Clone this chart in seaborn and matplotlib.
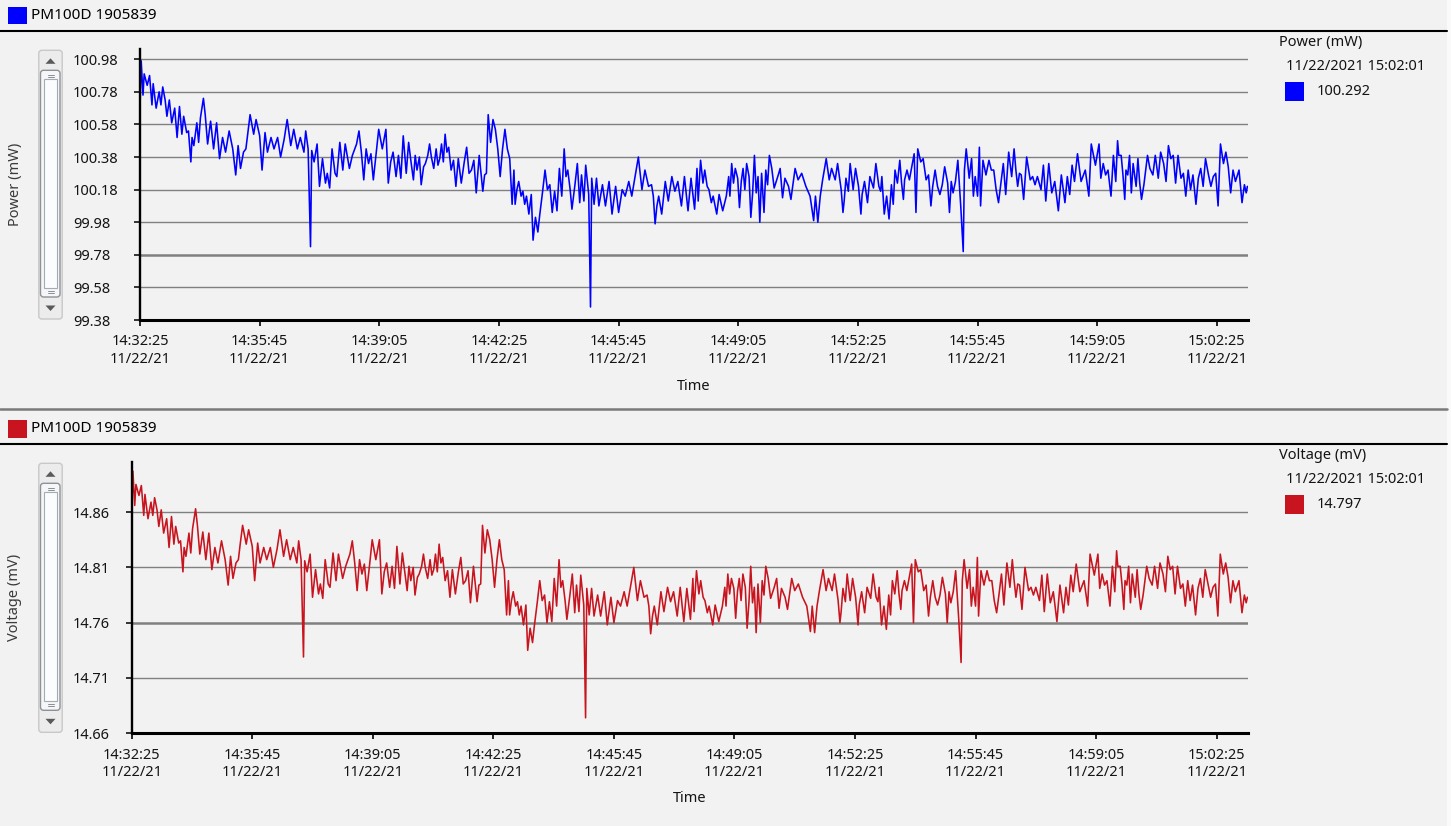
import numpy as np
import pandas as pd
import matplotlib
matplotlib.use("Agg")
import matplotlib.pyplot as plt
import matplotlib.dates as mdates
from matplotlib.patches import Rectangle, FancyBboxPatch, Polygon
from matplotlib.lines import Line2D
import seaborn as sns

# ---------------- data ----------------
device_name = "PM100D 1905839"
start_time = "2021-11-22 14:32:25"
legend_time = "11/22/2021 15:02:01"
power_current = "100.292"
voltage_current = "14.797"
power_label = "Power (mW)"
voltage_label = "Voltage (mV)"
x_label = "Time"

# seconds after 14:32:25 at which local highs / lows of the trace were read
elapsed_s = [
    0, 2, 5, 7, 12, 16, 20, 22, 27, 32, 35, 38, 42, 45, 49, 53, 58, 62, 66, 70,
    73, 78, 81, 85, 87, 90, 95, 98, 101, 106, 109, 113, 118, 123, 128, 133, 138, 143, 149, 155,
    160, 164, 168, 173, 177, 180, 184, 190, 194, 200, 204, 209, 213, 219, 224, 230, 235, 241, 246, 252,
    257, 263, 268, 274, 277, 281, 285, 287, 291, 296, 300, 305, 310,
    313, 317, 321, 326, 329, 334, 339, 343, 350, 355, 362, 366, 370, 374, 378, 382, 386, 390, 395, 399,
    405, 411, 415, 419, 423, 428, 432, 436, 440, 445, 449, 453, 457, 460, 463, 467, 470, 474, 477, 481,
    484, 487, 491, 495, 498, 501, 504, 507, 510, 513, 516, 520, 524, 528, 532, 537, 542, 546, 550, 554,
    558, 562, 567, 573, 576, 579, 582, 586, 590, 594, 598, 602, 606, 610, 614, 618, 622,
    625, 627, 630, 633, 637, 640, 643, 646, 650, 654, 657, 661, 665, 668, 673, 677, 681, 685, 689, 693,
    697, 701, 705, 709, 712, 715, 719, 722, 727, 731, 735, 738, 742, 745, 750, 753, 755, 759, 763, 767,
    773, 778, 784, 789, 795, 800, 806, 811, 817, 822, 828, 833, 839, 844, 850, 855, 858, 861, 864, 867,
    872, 878, 883, 889, 894, 899, 905, 910, 916, 921, 927, 931,
    933, 937, 941, 944, 948, 951, 955, 958, 964, 968, 974, 980, 984, 986, 989, 992, 995, 999, 1002, 1005,
    1008, 1011, 1014, 1018, 1021, 1024, 1027, 1030, 1033, 1036, 1039, 1043, 1046, 1049, 1052, 1056, 1060, 1066, 1070, 1074,
    1078, 1084, 1088, 1095, 1100, 1106, 1113, 1120, 1126, 1129, 1133, 1137, 1141, 1147, 1152, 1156, 1162, 1166, 1172, 1175,
    1177, 1180, 1184, 1187, 1192, 1196, 1201, 1205, 1207, 1211, 1216, 1220, 1226, 1230, 1235, 1238,
    1240, 1244, 1248, 1252, 1256, 1259, 1262, 1266, 1270, 1273, 1276, 1278, 1282, 1286, 1291, 1294, 1297, 1300, 1305, 1309,
    1314, 1318, 1322, 1325, 1329, 1333, 1337, 1341, 1345, 1350, 1353, 1356, 1359, 1363, 1367, 1372, 1376, 1378, 1381, 1386,
    1390, 1393, 1396, 1400, 1403, 1405, 1409, 1414, 1419, 1423, 1427, 1431, 1435, 1439, 1443, 1447, 1452, 1457, 1461, 1464,
    1467, 1470, 1473, 1477, 1482, 1488, 1492, 1496, 1500, 1506, 1510, 1514, 1519, 1524, 1529, 1535, 1540, 1546,
    1550, 1554, 1558, 1562, 1567, 1573, 1580, 1586, 1590, 1597, 1603, 1606, 1610, 1614, 1618, 1623, 1627, 1631, 1634, 1636,
    1640, 1643, 1646, 1648, 1651, 1654, 1657, 1660, 1665, 1668, 1671, 1674, 1678, 1681, 1684, 1688, 1693, 1697, 1702, 1706,
    1711, 1715, 1719, 1723, 1727, 1731, 1735, 1740, 1744, 1748, 1752, 1756, 1760, 1765, 1769, 1773, 1777, 1781, 1786, 1790,
    1794, 1798, 1802, 1806, 1811, 1815, 1819, 1823, 1827, 1831, 1837, 1842, 1846, 1849, 1851,
]

power_mw = [
    100.68, 100.97, 100.76, 100.89, 100.82, 100.88, 100.70, 100.83, 100.68, 100.78, 100.70, 100.81, 100.73, 100.63, 100.73, 100.59, 100.68, 100.50, 100.69, 100.52,
    100.63, 100.53, 100.54, 100.35, 100.50, 100.45, 100.59, 100.47, 100.62, 100.74, 100.64, 100.46, 100.60, 100.43, 100.59, 100.37, 100.50, 100.41, 100.54, 100.43,
    100.27, 100.45, 100.31, 100.41, 100.43, 100.52, 100.64, 100.52, 100.61, 100.51, 100.30, 100.53, 100.41, 100.50, 100.43, 100.50, 100.38, 100.49, 100.61, 100.45,
    100.55, 100.43, 100.50, 100.41, 100.54, 100.43, 99.83, 100.42, 100.35, 100.46, 100.20, 100.37, 100.22,
    100.28, 100.19, 100.43, 100.28, 100.26, 100.47, 100.30, 100.46, 100.31, 100.39, 100.46, 100.54, 100.41, 100.24, 100.43, 100.34, 100.40, 100.24, 100.41, 100.55,
    100.43, 100.55, 100.22, 100.35, 100.41, 100.26, 100.39, 100.25, 100.51, 100.28, 100.47, 100.35, 100.24, 100.39, 100.30, 100.38, 100.21, 100.32, 100.34, 100.39,
    100.46, 100.38, 100.31, 100.43, 100.33, 100.37, 100.46, 100.35, 100.52, 100.41, 100.44, 100.30, 100.36, 100.20, 100.37, 100.22, 100.35, 100.44, 100.28, 100.30,
    100.36, 100.16, 100.39, 100.17, 100.27, 100.28, 100.64, 100.47, 100.61, 100.55, 100.43, 100.26, 100.43, 100.55, 100.43, 100.37, 100.09,
    100.30, 100.09, 100.18, 100.23, 100.14, 100.17, 100.09, 100.14, 100.03, 100.15, 99.87, 100.01, 99.92, 100.02, 100.17, 100.30, 100.18, 100.21, 100.04, 100.17,
    100.05, 100.31, 100.14, 100.43, 100.26, 100.30, 100.18, 100.06, 100.21, 100.34, 100.10, 100.27, 100.11, 100.33, 100.15, 99.46, 100.25, 100.09, 100.25, 100.08,
    100.21, 100.08, 100.23, 100.03, 100.20, 100.04, 100.18, 100.14, 100.23, 100.14, 100.27, 100.38, 100.18, 100.30, 100.20, 100.21, 100.14, 99.97, 100.08, 100.14,
    100.03, 100.23, 100.11, 100.26, 100.17, 100.23, 100.08, 100.26, 100.05, 100.25, 100.06, 100.31,
    100.11, 100.36, 100.22, 100.30, 100.20, 100.18, 100.10, 100.14, 100.03, 100.15, 100.05, 100.14, 100.26, 100.14, 100.34, 100.22, 100.31, 100.25, 100.07, 100.23,
    100.31, 100.18, 100.34, 100.26, 100.01, 100.16, 100.39, 100.16, 100.26, 99.98, 100.28, 100.04, 100.30, 100.21, 100.39, 100.31, 100.19, 100.26, 100.31, 100.13,
    100.25, 100.20, 100.12, 100.31, 100.24, 100.28, 100.20, 100.14, 99.99, 100.14, 99.98, 100.14, 100.24, 100.37, 100.24, 100.31, 100.24, 100.34, 100.18, 100.04,
    100.11, 100.25, 100.17, 100.34, 100.18, 100.31, 100.20, 100.03, 100.15, 100.23, 100.10, 100.26, 100.19, 100.34, 100.20, 100.17,
    100.26, 100.03, 100.14, 100.00, 100.21, 100.09, 100.30, 100.22, 100.36, 100.22, 100.12, 100.24, 100.30, 100.24, 100.34, 100.40, 100.04, 100.43, 100.35, 100.37,
    100.24, 100.27, 100.08, 100.20, 100.30, 100.20, 100.15, 100.21, 100.32, 100.22, 100.04, 100.23, 100.16, 100.23, 100.36, 100.07, 99.80, 100.30, 100.43, 100.25,
    100.37, 100.14, 100.26, 100.14, 100.44, 100.08, 100.36, 100.27, 100.36, 100.30, 100.30, 100.18, 100.10, 100.22, 100.34, 100.15, 100.41, 100.26, 100.43, 100.30,
    100.20, 100.28, 100.27, 100.12, 100.38, 100.24, 100.26, 100.21, 100.26, 100.18, 100.33, 100.11, 100.34, 100.16, 100.23, 100.05, 100.27, 100.10,
    100.26, 100.15, 100.33, 100.23, 100.40, 100.23, 100.30, 100.14, 100.46, 100.33, 100.46, 100.25, 100.34, 100.27, 100.30, 100.14, 100.39, 100.23, 100.48, 100.39,
    100.39, 100.27, 100.12, 100.30, 100.27, 100.39, 100.16, 100.34, 100.20, 100.37, 100.22, 100.12, 100.21, 100.30, 100.39, 100.31, 100.27, 100.39, 100.25, 100.41,
    100.34, 100.23, 100.45, 100.37, 100.39, 100.22, 100.39, 100.25, 100.28, 100.14, 100.30, 100.18, 100.27, 100.09, 100.25, 100.31, 100.20, 100.37, 100.27, 100.20,
    100.26, 100.28, 100.08, 100.46, 100.34, 100.41, 100.32, 100.16, 100.30, 100.23, 100.30, 100.10, 100.21, 100.16, 100.20,
]

voltage_mv = [
    14.854, 14.897, 14.866, 14.885, 14.875, 14.884, 14.857, 14.876, 14.854, 14.869, 14.857, 14.873, 14.862, 14.847, 14.862, 14.841, 14.854, 14.828, 14.856, 14.831,
    14.847, 14.832, 14.834, 14.806, 14.828, 14.820, 14.841, 14.823, 14.845, 14.863, 14.848, 14.822, 14.842, 14.817, 14.841, 14.808, 14.828, 14.814, 14.834, 14.817,
    14.794, 14.820, 14.800, 14.814, 14.817, 14.831, 14.848, 14.831, 14.844, 14.829, 14.798, 14.832, 14.814, 14.828, 14.817, 14.828, 14.810, 14.826, 14.844, 14.820,
    14.835, 14.817, 14.828, 14.814, 14.834, 14.817, 14.729, 14.816, 14.806, 14.822, 14.783, 14.808, 14.786,
    14.795, 14.782, 14.817, 14.795, 14.792, 14.823, 14.798, 14.822, 14.800, 14.811, 14.822, 14.834, 14.814, 14.789, 14.817, 14.804, 14.813, 14.789, 14.814, 14.835,
    14.817, 14.835, 14.786, 14.806, 14.814, 14.792, 14.811, 14.791, 14.829, 14.795, 14.823, 14.806, 14.789, 14.811, 14.798, 14.810, 14.785, 14.801, 14.804, 14.811,
    14.822, 14.810, 14.800, 14.817, 14.803, 14.808, 14.822, 14.806, 14.831, 14.814, 14.819, 14.798, 14.807, 14.783, 14.808, 14.786, 14.806, 14.819, 14.795, 14.798,
    14.807, 14.778, 14.811, 14.779, 14.794, 14.795, 14.848, 14.823, 14.844, 14.835, 14.817, 14.792, 14.817, 14.835, 14.817, 14.808, 14.767,
    14.798, 14.767, 14.780, 14.788, 14.775, 14.779, 14.767, 14.775, 14.758, 14.776, 14.735, 14.755, 14.742, 14.757, 14.779, 14.798, 14.780, 14.785, 14.760, 14.779,
    14.761, 14.800, 14.775, 14.817, 14.792, 14.798, 14.780, 14.763, 14.785, 14.804, 14.769, 14.794, 14.770, 14.803, 14.776, 14.674, 14.791, 14.767, 14.791, 14.766,
    14.785, 14.766, 14.788, 14.758, 14.783, 14.760, 14.780, 14.775, 14.788, 14.775, 14.794, 14.810, 14.780, 14.798, 14.783, 14.785, 14.775, 14.750, 14.766, 14.775,
    14.758, 14.788, 14.770, 14.792, 14.779, 14.788, 14.766, 14.792, 14.761, 14.791, 14.763, 14.800,
    14.770, 14.807, 14.786, 14.798, 14.783, 14.780, 14.769, 14.775, 14.758, 14.776, 14.761, 14.775, 14.792, 14.775, 14.804, 14.786, 14.800, 14.791, 14.764, 14.788,
    14.800, 14.780, 14.804, 14.792, 14.755, 14.778, 14.811, 14.778, 14.792, 14.751, 14.795, 14.760, 14.798, 14.785, 14.811, 14.800, 14.782, 14.792, 14.800, 14.773,
    14.791, 14.783, 14.772, 14.800, 14.789, 14.795, 14.783, 14.775, 14.752, 14.775, 14.751, 14.775, 14.789, 14.808, 14.789, 14.800, 14.789, 14.804, 14.780, 14.760,
    14.770, 14.791, 14.779, 14.804, 14.780, 14.800, 14.783, 14.758, 14.776, 14.788, 14.769, 14.792, 14.782, 14.804, 14.783, 14.779,
    14.792, 14.758, 14.775, 14.754, 14.785, 14.767, 14.798, 14.786, 14.807, 14.786, 14.772, 14.789, 14.798, 14.789, 14.804, 14.813, 14.760, 14.817, 14.806, 14.808,
    14.789, 14.794, 14.766, 14.783, 14.798, 14.783, 14.776, 14.785, 14.801, 14.786, 14.760, 14.788, 14.778, 14.788, 14.807, 14.764, 14.724, 14.798, 14.817, 14.791,
    14.808, 14.775, 14.792, 14.775, 14.819, 14.766, 14.807, 14.794, 14.807, 14.798, 14.798, 14.780, 14.769, 14.786, 14.804, 14.776, 14.814, 14.792, 14.817, 14.798,
    14.783, 14.795, 14.794, 14.772, 14.810, 14.789, 14.792, 14.785, 14.792, 14.780, 14.803, 14.770, 14.804, 14.778, 14.788, 14.761, 14.794, 14.769,
    14.792, 14.776, 14.803, 14.788, 14.813, 14.788, 14.798, 14.775, 14.822, 14.803, 14.822, 14.791, 14.804, 14.794, 14.798, 14.775, 14.811, 14.788, 14.825, 14.811,
    14.811, 14.794, 14.772, 14.798, 14.794, 14.811, 14.778, 14.804, 14.783, 14.808, 14.786, 14.772, 14.785, 14.798, 14.811, 14.800, 14.794, 14.811, 14.791, 14.814,
    14.804, 14.788, 14.820, 14.808, 14.811, 14.786, 14.811, 14.791, 14.795, 14.775, 14.798, 14.780, 14.794, 14.767, 14.791, 14.800, 14.783, 14.808, 14.794, 14.783,
    14.792, 14.795, 14.766, 14.822, 14.804, 14.814, 14.801, 14.778, 14.798, 14.788, 14.798, 14.769, 14.785, 14.778, 14.783,
]

power_ticks = [99.38, 99.58, 99.78, 99.98, 100.18, 100.38, 100.58, 100.78, 100.98]
voltage_ticks = [14.66, 14.71, 14.76, 14.81, 14.86]
power_ylim = (99.38, 101.041)
voltage_ylim = (14.66, 14.905)
time_tick_step_s = 200
n_time_ticks = 10
view_span_s = 1852

# ---------------- style ----------------
sns.set_theme(style="white")
plt.rcParams["font.family"] = ["Noto Sans", "DejaVu Sans"]
BG = "#f2f2f2"
GRID = "#808080"
BLUE = "#0000ff"
RED = "#c8141e"
TXT = "#141414"

W, H = 1451, 826
fig = plt.figure(figsize=(W / 100, H / 100), dpi=100, facecolor=BG)

# overlay in pixel coords for window decorations
ov = fig.add_axes([0, 0, 1, 1])
ov.set_xlim(0, W)
ov.set_ylim(H, 0)
ov.axis("off")
ov.set_zorder(-1)


def px_ax(x0, y0, x1, y1):
    return fig.add_axes([x0 / W, 1 - y1 / H, (x1 - x0) / W, (y1 - y0) / H])


n = min(len(elapsed_s), len(power_mw), len(voltage_mv))
start = pd.Timestamp(start_time)
times = start + pd.to_timedelta(np.asarray(elapsed_s[:n], dtype=float), unit="s")
df = pd.DataFrame({"time": times, "power": power_mw[:n], "voltage": voltage_mv[:n]})
tick_times = pd.date_range(start, periods=n_time_ticks, freq=f"{time_tick_step_s}s")


def style_axes(ax, col, color, ticks, ylim, ylab, label_left_px, spine_px, thick_idx):
    ax.set_facecolor(BG)
    sns.lineplot(data=df, x="time", y=col, ax=ax, color=color, lw=1.15,
                 estimator=None, sort=False, legend=False)
    ax.set_xlim(start, start + pd.Timedelta(seconds=view_span_s))
    ax.set_ylim(*ylim)
    ax.set_yticks(ticks)
    ax.yaxis.set_major_formatter(matplotlib.ticker.FormatStrFormatter("%.2f"))
    ax.set_xticks(mdates.date2num(tick_times.to_pydatetime()))
    ax.xaxis.set_major_formatter(mdates.DateFormatter("%H:%M:%S\n%m/%d/%y"))
    for s in ["top", "right"]:
        ax.spines[s].set_visible(False)
    ax.spines["left"].set_linewidth(1.7)
    ax.spines["bottom"].set_linewidth(2.2)
    ax.spines["left"].set_color("black")
    ax.spines["bottom"].set_color("black")
    ax.set_axisbelow(True)
    ax.yaxis.grid(True, color=GRID, lw=1.0)
    ax.xaxis.grid(False)
    gl = ax.get_ygridlines()
    gl[thick_idx].set_linewidth(1.8)
    pad_px = spine_px - 6 - label_left_px
    ax.tick_params(axis="y", left=True, length=4.3, width=1.1, color="black",
                   labelsize=10.5, labelcolor=TXT, pad=pad_px * 0.72)
    ax.tick_params(axis="x", bottom=True, length=4.3, width=1.2, color="black",
                   labelsize=10.5, labelcolor=TXT, pad=6.0)
    for lbl in ax.get_yticklabels():
        lbl.set_horizontalalignment("left")
    for lbl in ax.get_xticklabels():
        lbl.set_linespacing(1.25)
    ax.set_xlabel(x_label, fontsize=10.5, color=TXT, va="center")
    ax.set_ylabel(ylab, fontsize=10.5, color="#3a3a3a", va="center")


# top panel: axes x 140..1248, y 49.3..320
ax1 = px_ax(140, 49.3, 1248, 320)
style_axes(ax1, "power", BLUE, power_ticks, power_ylim, power_label, 73, 140, 2)
ax1.xaxis.set_label_coords(0.5, (320 - 386) / (320 - 49.3))
ax1.yaxis.set_label_coords((15 - 140) / (1248 - 140), 0.5)

# bottom panel: axes x 131.7..1248, y 462.3..733.3
ax2 = px_ax(131.7, 462.3, 1248, 733.3)
style_axes(ax2, "voltage", RED, voltage_ticks, voltage_ylim, voltage_label, 73, 131.7, 2)
ax2.xaxis.set_label_coords(0.5, (733.3 - 799) / (733.3 - 462.3))
ax2.yaxis.set_label_coords((15 - 131.7) / (1248 - 131.7), 0.5)


# ---------------- window decorations ----------------
def header(y_sq0, y_line, color):
    ov.add_patch(Rectangle((8.3, y_sq0), 18.4, 17.6, color=color, lw=0))
    ov.text(31, y_sq0 + 8.8, device_name, fontsize=11, color="black",
            ha="left", va="center")
    ov.add_line(Line2D([0, 1447], [y_line, y_line], color="black", lw=1.5))


header(6.7, 31, BLUE)
header(420.0, 444, RED)
ov.add_line(Line2D([0, 1447], [409.3, 409.3], color="#7a7a7a", lw=1.8))
ov.add_patch(Rectangle((1447, 0), 4, H, color="#fafafa", lw=0))


def legend(dy, title, color, value):
    ov.text(1279, 42.7 + dy, title, fontsize=10.5, color=TXT, ha="left", va="center")
    ov.text(1286, 66.7 + dy, legend_time, fontsize=10.5, color=TXT, ha="left", va="center")
    ov.add_patch(Rectangle((1285, 81.7 + dy), 19, 19, color=color, lw=0))
    ov.text(1317, 91.2 + dy, value, fontsize=10.5, color=TXT, ha="left", va="center")


legend(0, power_label, BLUE, power_current)
legend(413, voltage_label, RED, voltage_current)


def scrollbar(y0, y1):
    ov.add_patch(FancyBboxPatch((38.8, y0 + 1), 23.4, y1 - y0 - 2,
                                boxstyle="round,pad=0,rounding_size=3",
                                fc="#ececec", ec="#c8c8c8", lw=1.0))
    cx = 50.5
    ov.add_patch(Polygon([[cx - 5, y0 + 14.5], [cx + 5, y0 + 14.5], [cx, y0 + 9]],
                         closed=True, color="#5a5a5a", lw=0))
    ov.add_patch(Polygon([[cx - 5, y1 - 14.5], [cx + 5, y1 - 14.5], [cx, y1 - 9]],
                         closed=True, color="#5a5a5a", lw=0))
    t0, t1 = y0 + 21, y1 - 23
    ov.add_patch(FancyBboxPatch((40.5, t0), 19.5, t1 - t0,
                                boxstyle="round,pad=0,rounding_size=3",
                                fc="#f4f6f8", ec="#8e9297", lw=1.0))
    ov.add_patch(Rectangle((44, t0 + 9), 12.5, t1 - t0 - 18,
                           fc="#fbfcfd", ec="#a7abb0", lw=0.8))
    for yy in (t0 + 4.5, t0 + 6.5, t1 - 6.5, t1 - 4.5):
        ov.add_line(Line2D([47.5, 53.5], [yy, yy], color="#8a8e93", lw=0.7))


scrollbar(49.3, 320)
scrollbar(462.3, 733.3)

fig.savefig("out.png", dpi=100, facecolor=BG)
